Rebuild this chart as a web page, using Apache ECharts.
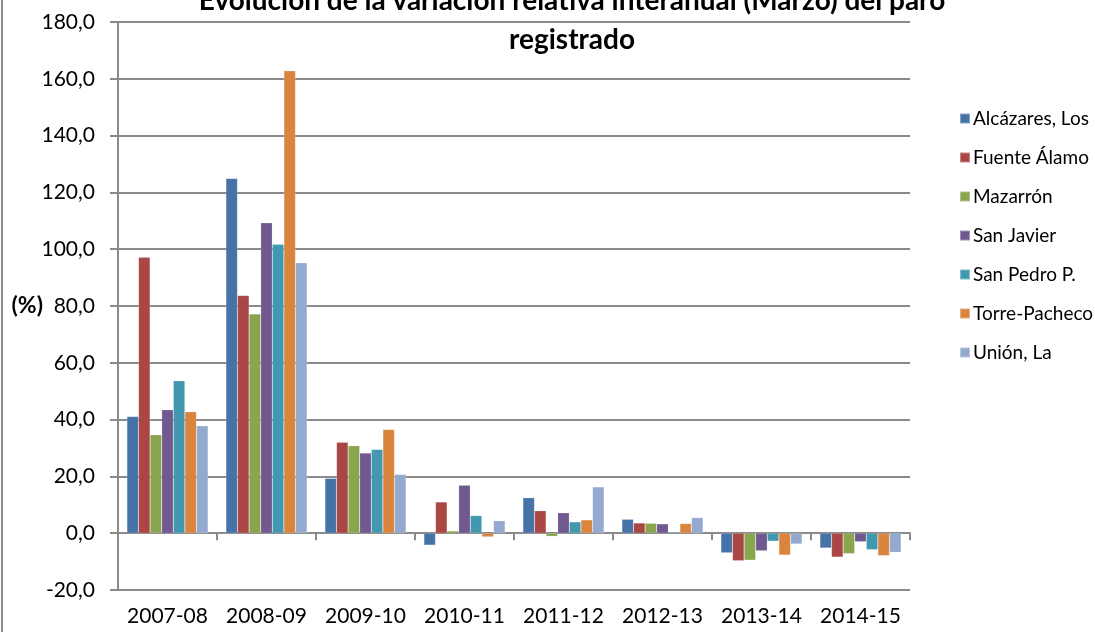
<!DOCTYPE html>
<html>
<head>
<meta charset="utf-8">
<title>Evolución de la variación relativa interanual (Marzo) del paro registrado</title>
<script src="https://cdn.jsdelivr.net/npm/echarts@6/dist/echarts.min.js"></script>
<style>
  html, body { margin: 0; padding: 0; background: #fff; }
  #chart { width: 1095px; height: 632px; }
</style>
</head>
<body>
<div id="chart"></div>
<script>
var periodos = ['2007-08', '2008-09', '2009-10', '2010-11', '2011-12', '2012-13', '2013-14', '2014-15'];
var municipios = ['Alcázares, Los', 'Fuente Álamo', 'Mazarrón', 'San Javier', 'San Pedro P.', 'Torre-Pacheco', 'Unión, La'];

var alcazares  = [41.1, 124.9, 19.3, -4.2, 12.5, 4.9, -6.9, -5.2];
var fuenteAlamo = [97.2, 83.7, 32.0, 11.0, 7.9, 3.6, -9.7, -8.4];
var mazarron   = [34.7, 77.2, 30.8, 0.8, -1.1, 3.5, -9.5, -7.2];
var sanJavier  = [43.5, 109.3, 28.2, 16.9, 7.2, 3.3, -6.2, -3.0];
var sanPedro   = [53.7, 101.7, 29.5, 6.2, 4.0, 0.4, -2.8, -5.8];
var torrePacheco = [42.8, 162.8, 36.5, -1.3, 4.7, 3.4, -7.7, -7.9];
var unionLa    = [37.8, 95.2, 20.7, 4.4, 16.3, 5.5, -3.8, -6.7];

var valores = [alcazares, fuenteAlamo, mazarron, sanJavier, sanPedro, torrePacheco, unionLa];
var colores = ['#4572A7', '#AA4643', '#89A54E', '#71588F', '#4198AF', '#DB843D', '#93A9CF'];

var fuente = 'Lato, "Open Sans", sans-serif';
var gris = '#8a8a8a';

var myChart = echarts.init(document.getElementById('chart'));

var series = municipios.map(function (nombre, i) {
    return {
        name: nombre,
        type: 'bar',
        xAxisIndex: 0,
        barGap: '0%',
        barCategoryGap: '18%',
        itemStyle: { color: colores[i], borderColor: 'rgba(255,255,255,0.35)', borderWidth: 0.5 },
        data: valores[i]
    };
});

var option = {
    animation: false,
    textStyle: { fontFamily: fuente, color: '#000' },
    title: {
        text: 'Evolución de la variación relativa interanual (Marzo) del paro\nregistrado',
        left: 567,
        textAlign: 'center',
        top: -24,
        textStyle: { fontFamily: fuente, fontSize: 28, fontWeight: 'bold', color: '#000', lineHeight: 39 }
    },
    legend: {
        orient: 'vertical',
        left: 954,
        top: 104,
        icon: 'rect',
        itemWidth: 10,
        itemHeight: 10,
        itemGap: 20,
        textStyle: { fontFamily: fuente, fontSize: 19, color: '#000', padding: [0, 0, 0, -2] },
        data: municipios
    },
    grid: { left: 118, right: 185, top: 22, bottom: 42, containLabel: false },
    xAxis: [
        {
            type: 'category',
            data: periodos,
            position: 'bottom',
            axisLine: { show: false, onZero: false },
            axisTick: { show: false },
            axisLabel: { fontFamily: fuente, fontSize: 21, color: '#000', margin: 16, interval: 0 }
        },
        {
            type: 'category',
            data: periodos,
            position: 'top',
            axisLine: { show: true, onZero: true, lineStyle: { color: gris, width: 2 } },
            axisTick: { show: true, inside: true, length: 7, interval: 0, lineStyle: { color: gris, width: 2 } },
            axisLabel: { show: false },
            splitLine: { show: false }
        }
    ],
    yAxis: {
        type: 'value',
        min: -20,
        max: 180,
        interval: 20,
        name: '(%)',
        nameLocation: 'middle',
        nameRotate: 0,
        nameGap: 75,
        nameMoveOverlap: false,
        nameTextStyle: { fontFamily: fuente, fontSize: 23, fontWeight: 'bold', color: '#000', align: 'right', verticalAlign: 'middle' },
        axisLine: { show: true, lineStyle: { color: gris, width: 2 } },
        axisTick: { show: true, length: 8, lineStyle: { color: gris, width: 2 } },
        axisLabel: {
            fontFamily: fuente,
            fontSize: 21,
            color: '#000',
            margin: 23,
            formatter: function (v) { return v.toFixed(1).replace('.', ','); }
        },
        splitLine: { show: true, lineStyle: { color: gris, width: 2 } }
    },
    graphic: [
        { type: 'rect', left: 1, top: 0, shape: { width: 2, height: 632 }, style: { fill: gris } }
    ],
    series: series
};

myChart.setOption(option);
window.addEventListener('resize', function () {
    myChart.resize();
});
</script>
</body>
</html>
